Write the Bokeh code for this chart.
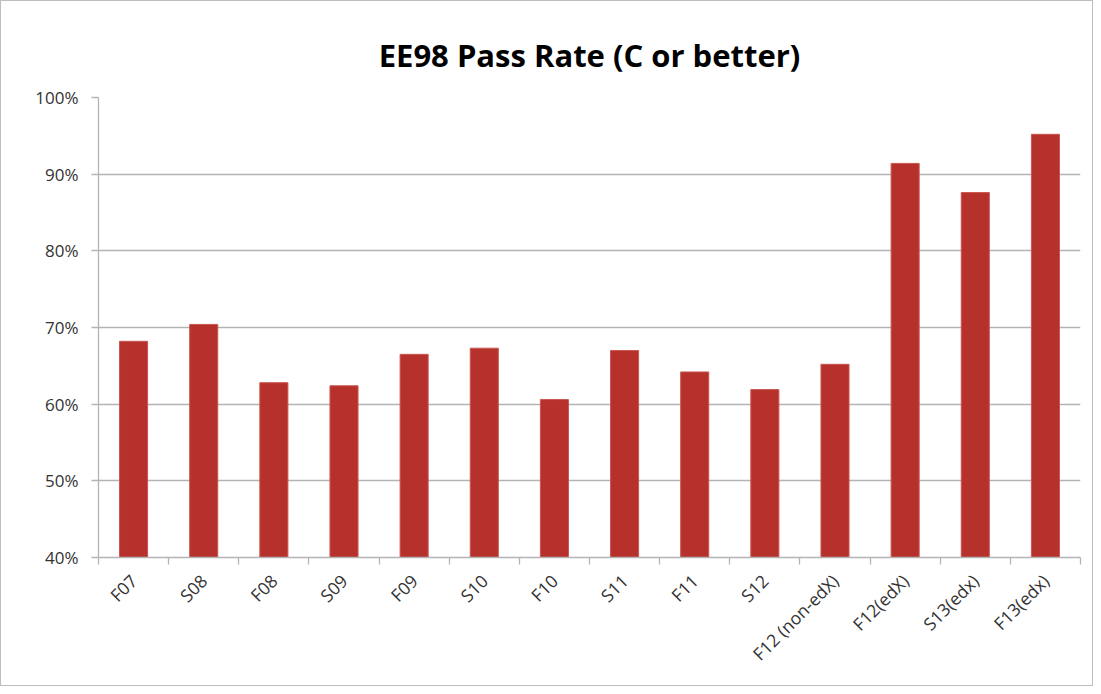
import numpy as np
from math import pi
from bokeh.plotting import figure
from bokeh.models import FixedTicker, NumeralTickFormatter, Range1d
from bokeh.embed import file_html
from bokeh.resources import INLINE

categories = ["F07", "S08", "F08", "S09", "F09", "S10", "F10", "S11", "F11",
              "S12", "F12 (non-edX)", "F12(edX)", "S13(edx)", "F13(edx)"]
pass_rate = [0.682, 0.704, 0.628, 0.624, 0.665, 0.673, 0.606, 0.670, 0.642,
             0.619, 0.652, 0.914, 0.876, 0.952]
y_ticks = [0.4, 0.5, 0.6, 0.7, 0.8, 0.9, 1.0]

n = len(categories)
centers = list(np.arange(n) + 0.5)
bounds = list(range(n + 1))

p = figure(width=1093, height=686, output_backend="svg", toolbar_location=None,
           x_range=Range1d(0, n), y_range=Range1d(0.4, 1.0),
           min_border_left=97, min_border_top=96, min_border_right=14,
           min_border_bottom=130)
p.styles = {"border": "1.5px solid #bdbdbd", "box-sizing": "border-box"}

p.title.text = "EE98 Pass Rate (C or better)"
p.title.text_font = "Open Sans"
p.title.text_font_size = "31px"
p.title.text_font_style = "bold"
p.title.text_color = "#000000"
p.title.align = "center"
p.title.standoff = 43

p.vbar(x=centers, top=pass_rate, bottom=0.4, width=0.4,
       fill_color="#B7312C", line_color="#C9564F", line_width=1)

p.outline_line_color = None
p.background_fill_color = "white"
p.border_fill_color = "white"

# x axis
p.xaxis.ticker = FixedTicker(ticks=centers, minor_ticks=bounds)
p.xaxis.major_label_overrides = {float(c): lab for c, lab in zip(centers, categories)}
p.xaxis.major_label_orientation = pi / 4
p.xaxis.major_tick_line_color = None
p.xaxis.major_tick_out = 0
p.xaxis.major_tick_in = 0
p.xaxis.minor_tick_out = 7
p.xaxis.minor_tick_in = 0
p.xaxis.minor_tick_line_color = "#b4b4b4"
p.xaxis.minor_tick_line_width = 1.3
p.xaxis.axis_line_color = "#b4b4b4"
p.xaxis.axis_line_width = 1.3
p.xaxis.major_label_standoff = 13
p.xaxis.major_label_text_font = "Open Sans"
p.xaxis.major_label_text_font_size = "17.5px"
p.xaxis.major_label_text_color = "#333333"

# y axis
p.yaxis.ticker = FixedTicker(ticks=y_ticks)
p.yaxis.formatter = NumeralTickFormatter(format="0%")
p.yaxis.major_tick_out = 7
p.yaxis.major_tick_in = 0
p.yaxis.minor_tick_line_color = None
p.yaxis.major_tick_line_color = "#b4b4b4"
p.yaxis.major_tick_line_width = 1.3
p.yaxis.axis_line_color = "#b4b4b4"
p.yaxis.axis_line_width = 1.3
p.yaxis.major_label_standoff = 13
p.yaxis.major_label_text_font = "Open Sans"
p.yaxis.major_label_text_font_size = "17px"
p.yaxis.major_label_text_color = "#333333"

p.xgrid.grid_line_color = None
p.ygrid.ticker = FixedTicker(ticks=y_ticks)
p.ygrid.grid_line_color = "#b4b4b4"
p.ygrid.grid_line_width = 1.3

open("out.html", "w").write(file_html(p, INLINE))
